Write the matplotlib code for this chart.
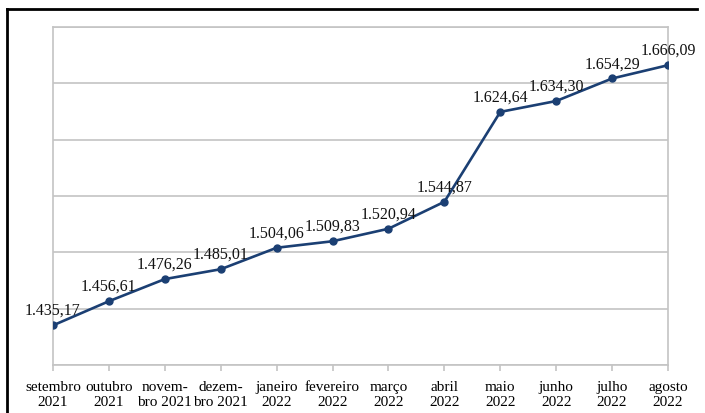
import numpy as np
import matplotlib.pyplot as plt
from matplotlib.lines import Line2D

meses = ["setembro\n2021", "outubro\n2021", "novem-\nbro 2021", "dezem-\nbro 2021",
         "janeiro\n2022", "fevereiro\n2022", "março\n2022", "abril\n2022",
         "maio\n2022", "junho\n2022", "julho\n2022", "agosto\n2022"]
valores = [1435.17, 1456.61, 1476.26, 1485.01, 1504.06, 1509.83,
           1520.94, 1544.87, 1624.64, 1634.30, 1654.29, 1666.09]


def fmt_br(v):
    s = f"{v:,.2f}"
    return s.replace(",", "X").replace(".", ",").replace("X", ".")


plt.rcParams["font.family"] = ["Liberation Serif", "DejaVu Serif"]

fig = plt.figure(figsize=(7.05, 4.14), dpi=100)
ax = fig.add_axes([53 / 705, 1 - 366 / 414, 615 / 705, 338 / 414])

x = np.arange(len(meses))
cor = "#1b3f73"
ax.plot(x, valores, color=cor, lw=1.9, marker="o", ms=5, zorder=3)

for xi, v in zip(x, valores):
    ax.annotate(fmt_br(v), (xi, v), xytext=(0, 11), textcoords="offset points",
                ha="center", va="center", fontsize=11.5, color="#111111")

ax.set_xlim(0, len(meses) - 1)
ax.set_ylim(1400, 1700)
ax.set_yticks(np.arange(1400, 1701, 50))
ax.set_yticklabels([])
ax.tick_params(axis="y", length=0)
ax.grid(axis="y", color="#c4c4c4", lw=1.2)
ax.set_axisbelow(True)

ax.set_xticks(x)
ax.set_xticklabels(meses, fontsize=11, linespacing=1.2, color="#000000")
ax.tick_params(axis="x", length=4, width=1.2, color="#c4c4c4", pad=7)

for lado in ["left", "right", "bottom", "top"]:
    ax.spines[lado].set_color("#c4c4c4")
    ax.spines[lado].set_linewidth(1.2)

# moldura preta da figura
fig.add_artist(Line2D([7 / 705, 697 / 705], [1 - 10 / 414, 1 - 10 / 414],
                      transform=fig.transFigure, color="black", lw=2))
fig.add_artist(Line2D([7 / 705, 7 / 705], [1 - 10 / 414, 0],
                      transform=fig.transFigure, color="black", lw=2))

fig.savefig("out.png", dpi=100)
